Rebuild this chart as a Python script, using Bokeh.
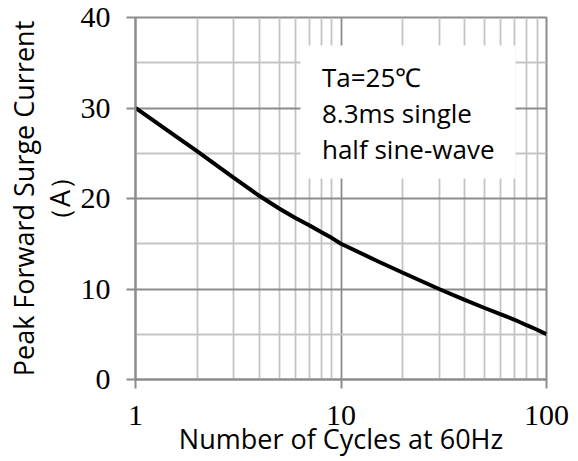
from bokeh.plotting import figure
from bokeh.models import FixedTicker, BoxAnnotation, Label, Range1d
from bokeh.embed import file_html
from bokeh.resources import INLINE

# ---- data ----
cycles = [1, 1.5, 2, 3, 4, 5, 6, 7, 8, 9, 10, 15, 20, 30, 40, 50, 60, 70, 80, 90, 100]
surge_current = [30, 27.2, 25.2, 22.3, 20.3, 18.9, 17.85, 17.05, 16.3, 15.65, 15.0,
                 13.1, 11.8, 10.0, 8.8, 7.9, 7.2, 6.6, 6.0, 5.5, 5.0]

x_major = [1, 10, 100]
x_minor = [2, 3, 4, 5, 6, 7, 8, 9, 20, 30, 40, 50, 60, 70, 80, 90]
y_major = [0, 10, 20, 30, 40]
y_minor = [5, 15, 25, 35]
x_labels = {1: "1", 10: "10", 100: "100"}

note_lines = ["Ta=25℃", "8.3ms single", "half sine-wave"]
note_y = [33.4, 29.4, 25.5]

MAJOR = "#8c8c8c"
MINOR = "#c4c4c4"
SANS = "Open Sans"
SERIF = "Liberation Serif"

p = figure(width=578, height=461, x_axis_type="log",
           x_range=Range1d(1, 100), y_range=Range1d(0, 40),
           output_backend="svg", toolbar_location=None,
           min_border_left=135, min_border_right=32,
           min_border_top=17, min_border_bottom=82)

p.xaxis.ticker = FixedTicker(ticks=x_major, minor_ticks=x_minor)
p.yaxis.ticker = FixedTicker(ticks=y_major, minor_ticks=y_minor)
p.xaxis.major_label_overrides = x_labels

for g in (p.xgrid, p.ygrid):
    g.grid_line_color = MAJOR
    g.grid_line_width = 1.8
    g.minor_grid_line_color = MINOR
    g.minor_grid_line_width = 1.8

for ax in (p.xaxis, p.yaxis):
    ax.axis_line_color = MAJOR
    ax.axis_line_width = 2
    ax.major_tick_line_color = MAJOR
    ax.major_tick_line_width = 2
    ax.major_tick_in = 0
    ax.major_tick_out = 9
    ax.minor_tick_line_color = None
    ax.major_label_text_font = SERIF
    ax.major_label_text_font_size = "30px"
    ax.major_label_text_color = "black"
    ax.axis_label_text_font = SANS
    ax.axis_label_text_font_size = "27px"
    ax.axis_label_text_font_style = "normal"
    ax.axis_label_text_color = "black"

p.xaxis.axis_label = "Number of Cycles at 60Hz"
p.xaxis.major_label_standoff = 17
p.xaxis.axis_label_standoff = -8
p.yaxis.axis_label = "Peak Forward Surge Current\n（A）"
p.yaxis.axis_label_text_line_height = 0.95
p.yaxis.major_label_standoff = 16
p.yaxis.axis_label_standoff = 0

p.outline_line_color = MAJOR
p.outline_line_width = 2
p.background_fill_color = "white"
p.border_fill_color = "white"

p.line(cycles, surge_current, line_color="black", line_width=4)

p.add_layout(BoxAnnotation(left=6.35, right=70.7, bottom=22.2, top=36.9,
                           fill_color="white", fill_alpha=1.0, line_color=None))
for t, yy in zip(note_lines, note_y):
    p.add_layout(Label(x=8.08, y=yy, text=t, text_font=SANS,
                       text_font_size="26px", text_baseline="middle",
                       text_align="left", text_color="black"))

open("out.html", "w").write(file_html(p, INLINE))
